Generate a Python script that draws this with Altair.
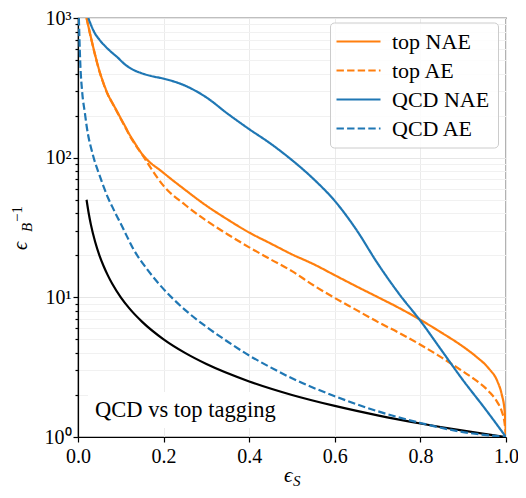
import altair as alt
import pandas as pd

series_order = ["top NAE", "top AE", "QCD NAE", "QCD AE"]
series_colors = ["#ff7f0e", "#ff7f0e", "#1f77b4", "#1f77b4"]

top_nae_x = [0.02, 0.03, 0.04, 0.05, 0.06, 0.07, 0.08, 0.09, 0.1, 0.11, 0.12, 0.13, 0.15, 0.2, 0.25,
             0.3, 0.35, 0.4, 0.45, 0.5, 0.55, 0.6, 0.65, 0.7, 0.75, 0.8, 0.85, 0.9, 0.93, 0.96,
             0.98, 0.99, 0.997, 1.0]
top_nae_y = [1000, 731, 545, 419, 339, 283, 248, 218, 191, 168, 147, 131, 106, 77.8, 58.9,
             45.3, 36.0, 29.1, 24.3, 20.3, 17.3, 14.4, 12.0, 10.05, 8.4, 6.9, 5.57, 4.43, 3.77, 3.09,
             2.5, 2.02, 1.51, 1.0]

top_ae_x = [0.02, 0.03, 0.04, 0.05, 0.06, 0.07, 0.08, 0.09, 0.1, 0.11, 0.12, 0.13, 0.15, 0.17, 0.2,
            0.25, 0.3, 0.35, 0.4, 0.45, 0.5, 0.55, 0.6, 0.65, 0.7, 0.75, 0.8, 0.85, 0.9, 0.93,
            0.96, 0.98, 0.99, 0.997, 1.0]
top_ae_y = [1000, 725, 540, 415, 336, 281, 246, 216, 189, 166, 145, 129, 105, 84.4, 62.8,
            46.0, 35.4, 28.2, 22.8, 18.7, 15.4, 12.2, 9.89, 8.13, 6.67, 5.57, 4.58, 3.70, 2.94, 2.54,
            2.12, 1.77, 1.53, 1.24, 1.0]

qcd_nae_x = [0.024, 0.039, 0.05, 0.07, 0.093, 0.108, 0.125, 0.146, 0.17, 0.2, 0.25, 0.3, 0.35,
             0.4, 0.45, 0.5, 0.55, 0.6, 0.65, 0.7, 0.75, 0.8, 0.85, 0.9, 0.95, 1.0]
qcd_nae_y = [1000, 781, 700, 600, 520, 470, 432, 405, 385, 368, 328, 270, 206,
             160, 126, 96, 70.5, 49, 30.6, 17.5, 10.6, 6.79, 4.15, 2.54, 1.61, 1.0]

qcd_ae_x = [0.002, 0.005, 0.01, 0.016, 0.02, 0.035, 0.05, 0.06, 0.07, 0.08, 0.09, 0.1, 0.11, 0.13,
            0.16, 0.19, 0.25, 0.3, 0.35, 0.4, 0.45, 0.5, 0.6, 0.7, 0.8, 0.9, 1.0]
qcd_ae_y = [1000, 500, 290, 210, 170, 104, 75.2, 61.8, 51.6, 44.6, 38.5, 33.7, 29.1, 22.0,
            16.1, 12.4, 8.13, 6.15, 4.81, 3.83, 3.15, 2.63, 1.96, 1.53, 1.26, 1.085, 1.0]

rand_x = [0.02, 0.025, 0.03, 0.04, 0.05, 0.06, 0.07, 0.08, 0.1, 0.12, 0.15, 0.2, 0.25, 0.3,
          0.4, 0.5, 0.6, 0.7, 0.8, 0.9, 1.0]
rand_y = [50, 40, 33.3, 25, 20, 16.7, 14.3, 12.5, 10, 8.33, 6.67, 5, 4, 3.33,
          2.5, 2, 1.67, 1.43, 1.25, 1.11, 1.0]

x_ticks = [0.0, 0.2, 0.4, 0.6, 0.8, 1.0]
y_ticks = [1, 2, 3, 4, 5, 6, 7, 8, 9, 10, 20, 30, 40, 50, 60, 70, 80, 90,
           100, 200, 300, 400, 500, 600, 700, 800, 900, 1000]

rows = []
for name, xs, ys in [("top NAE", top_nae_x, top_nae_y), ("top AE", top_ae_x, top_ae_y),
                     ("QCD NAE", qcd_nae_x, qcd_nae_y), ("QCD AE", qcd_ae_x, qcd_ae_y)]:
    for i, (a, b) in enumerate(zip(xs, ys)):
        rows.append({"series": name, "x": a, "y": b, "order": i})
df = pd.DataFrame(rows)
df_rand = pd.DataFrame({"x": rand_x, "y": rand_y})

FONT = "Liberation Serif"
major_test = "indexof([1, 10, 100, 1000], datum.value) >= 0"

X = alt.X("x:Q", scale=alt.Scale(domain=[0, 1], nice=False, zero=False),
          axis=alt.Axis(values=x_ticks, format=".1f", title=None, tickSize=5, labelPadding=4,
                        labelFlush=False, gridColor="#ebebeb"))
Y = alt.Y("y:Q", scale=alt.Scale(type="log", domain=[1, 1000], nice=False),
          axis=alt.Axis(values=y_ticks, title=None, labelOverlap=False, labelFlush=False,
                        labelPadding=2,
                        labelExpr="datum.value == 1 ? '10⁰' : datum.value == 10 ? '10¹' : datum.value == 100 ? '10²' : datum.value == 1000 ? '10³' : ''",
                        tickSize={"condition": {"test": major_test, "value": 5}, "value": 3},
                        gridColor={"condition": {"test": major_test, "value": "#e6e6e6"}, "value": "#f1f1f1"}))

leg = alt.Legend(title=None, orient="none", legendX=252, legendY=4.5, padding=8, rowPadding=7,
                 symbolType="M-4,0L4,0", symbolSize=121, symbolOffset=9.5, labelOffset=22.5,
                 symbolStrokeWidth=2.2, labelFont=FONT, labelFontSize=22, labelColor="black",
                 strokeColor="#cccccc", cornerRadius=4, fillColor="rgba(255,255,255,0.85)")

lines = alt.Chart(df).mark_line(strokeWidth=2.2, clip=True, interpolate="monotone").encode(
    x=X, y=Y,
    color=alt.Color("series:N", scale=alt.Scale(domain=series_order, range=series_colors), legend=leg),
    strokeDash=alt.StrokeDash("series:N", scale=alt.Scale(domain=series_order,
                              range=[[1, 0], [7.4, 3.2], [1, 0], [7.4, 3.2]]), legend=leg),
    order="order:Q",
)

black = alt.Chart(df_rand).mark_line(color="black", strokeWidth=2.2, interpolate="monotone", clip=True).encode(
    x=X, y=Y)

one = pd.DataFrame({"t": ["QCD vs top tagging"]})
box = alt.Chart(one).mark_rect(color="white").encode(
    x=alt.value(10), x2=alt.value(203), y=alt.value(374), y2=alt.value(410))
note = alt.Chart(one).mark_text(font=FONT, fontSize=22.5, align="left", baseline="alphabetic",
                                color="black").encode(
    text="t:N", x=alt.value(17), y=alt.value(399))

def label(txt, x, y, size, angle=0, style="italic"):
    return alt.Chart(pd.DataFrame({"t": [txt]})).mark_text(
        font=FONT, fontSize=size, fontStyle=style, align="left", baseline="alphabetic",
        color="black", angle=angle).encode(text="t:N", x=alt.value(x), y=alt.value(y))

# plot origin is at page (78, 18)
xt1 = label("ϵ", 206, 464, 21)
xt2 = label("S", 215, 468, 15)
yt1 = label("ϵ", -51, 232, 20, 270)
yt2 = label("B", -46, 214, 15, 270)
yt3 = label("−1", -56, 204, 15, 270, "normal")

chart = alt.layer(box, black, lines, note, xt1, xt2, yt1, yt2, yt3).properties(
    width=428, height=419,
    autosize=alt.AutoSizeParams(type="none"),
    padding={"left": 70, "top": 10, "right": 12, "bottom": 53},
).configure_view(stroke="black", strokeWidth=1.2).configure_axis(
    domainColor="black", domainWidth=1.2, tickColor="black", tickWidth=1.2,
    labelColor="black", labelFont=FONT, labelFontSize=20, grid=True,
)

chart.save("out.html", embed_options={"renderer": "svg", "actions": False})
